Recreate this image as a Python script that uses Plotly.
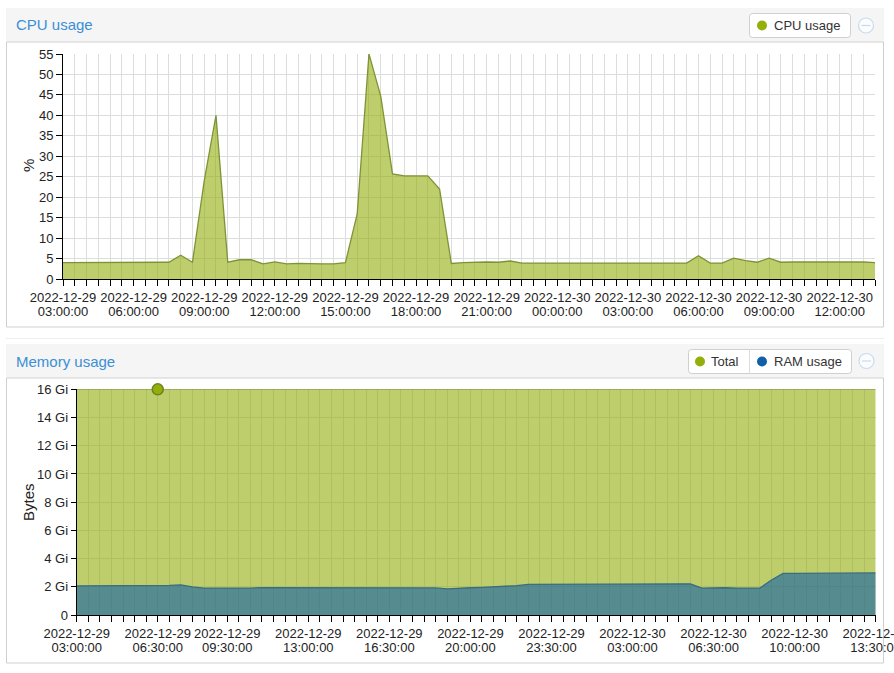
import pandas as pd
import plotly.graph_objects as go

W, H = 894, 673

# ---------------- data ----------------
cpu_times = pd.date_range("2022-12-29 03:00:00", "2022-12-30 13:30:00", freq="30min")
cpu_percent = [
    4.0, 4.0, 4.0, 4.0, 4.0, 4.0, 4.05, 4.0, 4.0, 4.1,
    5.8, 4.1, 24.0, 40.0, 4.1, 4.7, 4.7, 3.7, 4.2, 3.7,
    3.8, 3.7, 3.7, 3.7, 4.0, 15.9, 55.0, 44.7, 25.7, 25.2,
    25.2, 25.2, 22.0, 3.8, 4.0, 4.1, 4.15, 4.1, 4.4, 3.9,
    3.9, 3.9, 3.9, 3.9, 3.9, 3.9, 3.8, 3.9, 3.9, 3.9,
    3.9, 3.9, 3.9, 3.9, 5.7, 3.9, 3.9, 5.1, 4.5, 4.1,
    5.1, 4.1, 4.15, 4.15, 4.1, 4.1, 4.2, 4.15, 4.15, 4.0,
]

mem_times = pd.date_range("2022-12-29 03:00:00", "2022-12-30 13:30:00", freq="30min")
mem_total_gib = [
    16, 16, 16, 16, 16, 16, 16, 16, 16, 16, 16, 16, 16, 16, 16, 16, 16, 16, 16, 16,
    16, 16, 16, 16, 16, 16, 16, 16, 16, 16, 16, 16, 16, 16, 16, 16, 16, 16, 16, 16,
    16, 16, 16, 16, 16, 16, 16, 16, 16, 16, 16, 16, 16, 16, 16, 16, 16, 16, 16, 16,
    16, 16, 16, 16, 16, 16, 16, 16, 16, 16,
]
mem_ram_gib = [
    2.06, 2.06, 2.06, 2.06, 2.08, 2.10, 2.07, 2.10, 2.10, 2.13,
    1.99, 1.91, 1.91, 1.87, 1.91, 1.91, 1.93, 1.93, 1.93, 1.93,
    1.92, 1.92, 1.92, 1.92, 1.92, 1.92, 1.92, 1.92, 1.92, 1.92,
    1.92, 1.92, 1.85, 1.91, 1.93, 1.96, 1.99, 2.01, 2.08, 2.17,
    2.17, 2.19, 2.18, 2.19, 2.19, 2.21, 2.21, 2.21, 2.21, 2.21,
    2.19, 2.21, 2.21, 2.21, 1.91, 1.93, 1.93, 1.91, 1.91, 1.91,
    2.48, 2.95, 2.95, 2.96, 2.98, 2.98, 2.98, 2.98, 2.98, 2.98,
]
hover_index = 7  # highlighted point on "Total" (06:30)

cpu_ticks = [
    "2022-12-29 03:00:00", "2022-12-29 06:00:00", "2022-12-29 09:00:00",
    "2022-12-29 12:00:00", "2022-12-29 15:00:00", "2022-12-29 18:00:00",
    "2022-12-29 21:00:00", "2022-12-30 00:00:00", "2022-12-30 03:00:00",
    "2022-12-30 06:00:00", "2022-12-30 09:00:00", "2022-12-30 12:00:00",
]
mem_ticks = [
    "2022-12-29 03:00:00", "2022-12-29 06:30:00", "2022-12-29 09:30:00",
    "2022-12-29 13:00:00", "2022-12-29 16:30:00", "2022-12-29 20:00:00",
    "2022-12-29 23:30:00", "2022-12-30 03:00:00", "2022-12-30 06:30:00",
    "2022-12-30 10:00:00", "2022-12-30 13:30:00",
]
cpu_yticks = [0, 5, 10, 15, 20, 25, 30, 35, 40, 45, 50, 55]
mem_yticks = [0, 2, 4, 6, 8, 10, 12, 14, 16]
mem_yticklabels = ["0", "2 Gi", "4 Gi", "6 Gi", "8 Gi", "10 Gi", "12 Gi", "14 Gi", "16 Gi"]

FONT = "Liberation Sans, Arial, sans-serif"
GREEN = "#94ae0a"
BLUE = "#115fa6"
TITLE_BLUE = "#3a8fd6"
TXT = "#222222"


def px(x):
    return x / W


def py(y):
    return 1 - y / H


fig = go.Figure()

# CPU area
fig.add_trace(go.Scatter(
    x=cpu_times, y=cpu_percent, mode="lines", fill="tozeroy",
    fillcolor="rgba(148,174,10,0.6)", line=dict(color="#7d9436", width=1.3),
    xaxis="x", yaxis="y", showlegend=False, hoverinfo="skip"))
fig.add_trace(go.Scatter(
    x=cpu_times, y=cpu_percent, mode="lines", opacity=0, line=dict(width=0),
    xaxis="x3", yaxis="y", showlegend=False, hoverinfo="skip"))

# Memory areas
fig.add_trace(go.Scatter(
    x=mem_times, y=mem_total_gib, mode="lines", fill="tozeroy",
    fillcolor="rgba(148,174,10,0.6)", line=dict(color="#8a9c3c", width=1.3),
    xaxis="x2", yaxis="y2", showlegend=False, hoverinfo="skip"))
fig.add_trace(go.Scatter(
    x=mem_times, y=mem_ram_gib, mode="lines", fill="tozeroy",
    fillcolor="rgba(17,95,166,0.6)", line=dict(color="#3a6c82", width=1.3),
    xaxis="x2", yaxis="y2", showlegend=False, hoverinfo="skip"))
fig.add_trace(go.Scatter(
    x=[mem_times[hover_index]], y=[mem_total_gib[hover_index]], mode="markers",
    marker=dict(size=11, color=GREEN, line=dict(color="#6d8220", width=1.5)),
    cliponaxis=False, xaxis="x2", yaxis="y2", showlegend=False, hoverinfo="skip"))
fig.add_trace(go.Scatter(
    x=mem_times, y=mem_ram_gib, mode="lines", opacity=0, line=dict(width=0),
    xaxis="x4", yaxis="y2", showlegend=False, hoverinfo="skip"))

cpu_range = [str(cpu_times[0]), str(cpu_times[-1])]
mem_range = [str(mem_times[0]), "2022-12-30 13:30:05"]

cpu_dom_x = [px(63), px(875)]
cpu_dom_y = [py(279), py(54)]
mem_dom_x = [px(76.7), px(875.7)]
mem_dom_y = [py(615), py(389.3)]

tickfont = dict(family=FONT, size=13, color=TXT)
minor = dict(dtick=30 * 60 * 1000, tick0="2022-12-29 03:00:00", ticks="outside",
             ticklen=6, tickcolor="#000", showgrid=True, gridcolor="#dddddd", gridwidth=1)


def xaxis_main(dom, rng, ticks, anchor):
    return dict(domain=dom, range=rng, type="date", anchor=anchor,
                tickmode="array", tickvals=ticks,
                ticktext=[t.split(" ")[0] for t in ticks],
                ticks="outside", ticklen=6, tickcolor="#000", tickwidth=1,
                showline=True, linecolor="#000", linewidth=1,
                showgrid=True, gridcolor="#dddddd", gridwidth=1,
                zeroline=False, tickfont=tickfont, minor=minor,
                ticklabeloverflow="allow",
                fixedrange=True, automargin=False)


def xaxis_second(rng, ticks, overlay, anchor):
    return dict(overlaying=overlay, anchor=anchor, range=rng, type="date",
                tickmode="array", tickvals=ticks,
                ticktext=[t.split(" ")[1] for t in ticks],
                ticks="", showline=False, showgrid=False, zeroline=False,
                ticklabelstandoff=23, tickfont=tickfont, side="bottom",
                ticklabeloverflow="allow",
                fixedrange=True, automargin=False)


fig.update_layout(
    width=W, height=H,
    margin=dict(l=0, r=0, t=0, b=0, pad=0),
    paper_bgcolor="white", plot_bgcolor="rgba(0,0,0,0)",
    template="none",
    showlegend=False,
    font=dict(family=FONT, color=TXT),
    xaxis=xaxis_main(cpu_dom_x, cpu_range, cpu_ticks, "y"),
    xaxis3=xaxis_second(cpu_range, cpu_ticks, "x", "y"),
    yaxis=dict(domain=cpu_dom_y, range=[0, 55], tickmode="array", tickvals=cpu_yticks,
               ticks="outside", ticklen=6, tickcolor="#000", showline=True,
               linecolor="#000", showgrid=True, gridcolor="#dddddd", zeroline=False,
               tickfont=tickfont, anchor="x", fixedrange=True, automargin=False),
    xaxis2=xaxis_main(mem_dom_x, mem_range, mem_ticks, "y2"),
    xaxis4=xaxis_second(mem_range, mem_ticks, "x2", "y2"),
    yaxis2=dict(domain=mem_dom_y, range=[0, 16], tickmode="array", tickvals=mem_yticks,
                ticktext=mem_yticklabels, ticks="outside", ticklen=5, tickcolor="#000",
                showline=True, linecolor="#000", showgrid=True, gridcolor="#dddddd",
                zeroline=False, tickfont=tickfont, anchor="x2", fixedrange=True,
                automargin=False),
)


def rect(x0, y0, x1, y1, fill, line=None, lw=1):
    return dict(type="rect", xref="paper", yref="paper", x0=px(x0), x1=px(x1),
                y0=py(y0), y1=py(y1), fillcolor=fill,
                line=dict(color=line or "rgba(0,0,0,0)", width=lw if line else 0),
                layer="below")


def rrect(x0, y0, x1, y1, r, fill, line):
    pts = (f"M {px(x0 + r)},{py(y0)} L {px(x1 - r)},{py(y0)} "
           f"Q {px(x1)},{py(y0)} {px(x1)},{py(y0 + r)} L {px(x1)},{py(y1 - r)} "
           f"Q {px(x1)},{py(y1)} {px(x1 - r)},{py(y1)} L {px(x0 + r)},{py(y1)} "
           f"Q {px(x0)},{py(y1)} {px(x0)},{py(y1 - r)} L {px(x0)},{py(y0 + r)} "
           f"Q {px(x0)},{py(y0)} {px(x0 + r)},{py(y0)} Z")
    return dict(type="path", xref="paper", yref="paper", path=pts, fillcolor=fill,
                line=dict(color=line, width=1), layer="above")


def circle(cx, cy, r, fill, line, lw=1, layer="above"):
    return dict(type="circle", xref="paper", yref="paper", x0=px(cx - r), x1=px(cx + r),
                y0=py(cy + r), y1=py(cy - r), fillcolor=fill,
                line=dict(color=line, width=lw), layer=layer)


def hline(x0, x1, y, color, lw=1, layer="above"):
    return dict(type="line", xref="paper", yref="paper", x0=px(x0), x1=px(x1),
                y0=py(y), y1=py(y), line=dict(color=color, width=lw), layer=layer)


def vline(x, y0, y1, color, lw=1):
    return dict(type="line", xref="paper", yref="paper", x0=px(x), x1=px(x),
                y0=py(y0), y1=py(y1), line=dict(color=color, width=lw), layer="above")


shapes = [
    # CPU panel
    rect(6, 8, 884, 42, "#f5f5f5"),
    rect(6.5, 42, 883.5, 327, "white", "#d0d0d0"),
    # separator
    hline(6, 884, 338.5, "#eeeeee", 1, "below"),
    # Memory panel
    rect(6, 344, 884, 378, "#f5f5f5"),
    rect(6.5, 378, 883.5, 663, "white", "#d0d0d0"),
    # CPU legend
    rrect(749.5, 13.5, 850.5, 37.5, 3, "white", "#cfcfcf"),
    circle(762, 25.5, 5, GREEN, GREEN, 0),
    # Memory legend
    rrect(688.5, 349.5, 851.5, 373.5, 3, "white", "#cfcfcf"),
    vline(749.5, 349.5, 373.5, "#dcdcdc"),
    circle(700, 361.5, 5, GREEN, GREEN, 0),
    circle(762, 361.5, 5, BLUE, BLUE, 0),
    # collapse icons
    circle(866, 25.5, 7.5, "#fafcfe", "#c8dbee", 1.2),
    hline(861.5, 870.5, 25.5, "#c8dbee", 1.2),
    circle(866.5, 361, 7.5, "#fafcfe", "#c8dbee", 1.2),
    hline(862, 871, 361, "#c8dbee", 1.2),
]
fig.update_layout(shapes=shapes)


def label(text, x, y, size, color, anchor="left", angle=0):
    return dict(text=text, x=px(x), y=py(y), xref="paper", yref="paper",
                xanchor=anchor, yanchor="middle", showarrow=False, textangle=angle,
                font=dict(family=FONT, size=size, color=color), borderpad=0)


annotations = [
    label("CPU usage", 15, 25, 15, TITLE_BLUE),
    label("Memory usage", 15, 361, 15, TITLE_BLUE),
    label("CPU usage", 773, 25.5, 13, "#333333"),
    label("Total", 710, 361.5, 13, "#333333"),
    label("RAM usage", 773, 361.5, 13, "#333333"),
    label("%", 28, 166, 15, TXT, "center", -90),
    label("Bytes", 28, 502, 15, TXT, "center", -90),
]
fig.update_layout(annotations=annotations)

fig.write_html("out.html", config={"displayModeBar": False},
               post_script="document.body.style.margin='0';document.body.style.overflow='hidden';")
